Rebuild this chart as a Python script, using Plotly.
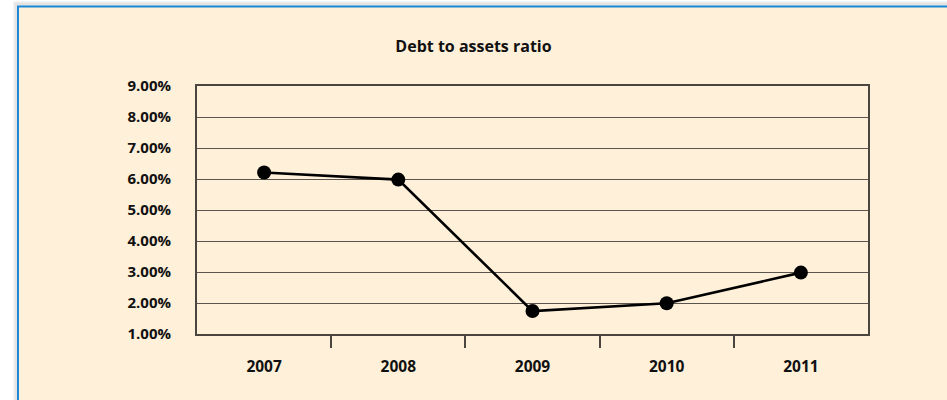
import plotly.graph_objects as go

years = ["2007", "2008", "2009", "2010", "2011"]
debt_to_assets = [0.0621, 0.0598, 0.0174, 0.0199, 0.0298]
y_ticks = [0.01, 0.02, 0.03, 0.04, 0.05, 0.06, 0.07, 0.08, 0.09]

W, H = 947, 400
L, R, T, B = 197, 868, 86, 334
pw, ph = R - L, B - T

def px_x(p):
    return (p - L) / pw

def px_y(p):
    return (B - p) / ph

xs = list(range(len(years)))

fig = go.Figure()
fig.add_trace(go.Scatter(
    x=xs, y=debt_to_assets, mode="lines+markers",
    line=dict(color="black", width=2.6),
    marker=dict(color="black", size=14),
    hoverinfo="skip", showlegend=False,
))

BOX = "#FEF0D9"
shapes = []
for i, c in enumerate(["#f4f4f4", "#ececec", "#e4e4e4"]):
    off = 4 - i
    shapes.append(dict(type="rect", xref="paper", yref="paper", layer="below",
                       x0=px_x(17 - off), x1=px_x(980), y0=px_y(420), y1=px_y(5 - off),
                       fillcolor=c, line=dict(width=0)))
shapes.append(dict(type="rect", xref="paper", yref="paper", layer="below",
                   x0=px_x(18), x1=px_x(990), y0=px_y(430), y1=px_y(6.5),
                   fillcolor=BOX, line=dict(color="#1B87D6", width=2)))

fig.update_layout(
    width=W, height=H,
    margin=dict(l=L, r=W - R, t=T, b=H - B, pad=0),
    paper_bgcolor="white",
    plot_bgcolor=BOX,
    font=dict(family="Open Sans", color="#111111"),
    title=dict(text="<b>Debt to assets ratio</b>", x=0.5, xref="container",
               xanchor="center", y=1 - 46 / H, yref="container", yanchor="middle",
               font=dict(size=16, family="Open Sans", color="#111111")),
    shapes=shapes,
    xaxis=dict(
        range=[-0.5, len(years) - 0.5],
        tickmode="array", tickvals=xs, ticktext=["<b>%s</b>" % y for y in years],
        ticks="", showgrid=False, zeroline=False,
        showline=True, linecolor="#4a463f", linewidth=2, mirror=True,
        tickfont=dict(size=15.5, family="Open Sans", color="#111111"),
        ticklabelstandoff=17,
        minor=dict(tickmode="array", tickvals=[x + 0.5 for x in xs[:-1]],
                   ticks="outside", ticklen=12, tickwidth=1.5, tickcolor="#4a463f",
                   showgrid=False),
    ),
    yaxis=dict(
        range=[0.01, 0.09],
        tickmode="array", tickvals=y_ticks,
        ticktext=["<b>%.2f%%</b>" % (v * 100) for v in y_ticks],
        ticks="", showgrid=True, gridcolor="#5a554d", gridwidth=1.2, zeroline=False,
        showline=True, linecolor="#4a463f", linewidth=2, mirror=True,
        tickfont=dict(size=15, family="Open Sans", color="#111111"),
        ticklabelstandoff=21,
    ),
)

fig.write_html("out.html")
